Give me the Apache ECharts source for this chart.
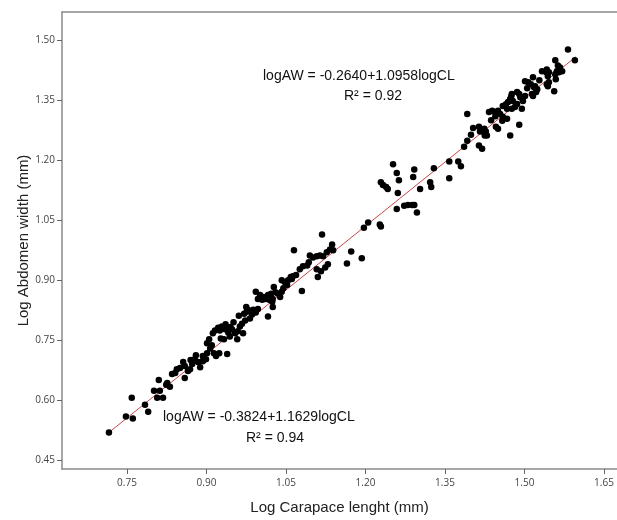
<!DOCTYPE html>
<html>
<head>
<meta charset="utf-8">
<script src="https://cdn.jsdelivr.net/npm/echarts@6/dist/echarts.min.js"></script>
<style>html,body{margin:0;padding:0;background:#fff}#c{width:617px;height:520px}</style>
</head>
<body>
<div id="c"></div>
<script>
// Tick labels
const xTicks = [0.75, 0.90, 1.05, 1.20, 1.35, 1.50, 1.65];
const yTicks = [0.45, 0.60, 0.75, 0.90, 1.05, 1.20, 1.35, 1.50];

// Scatter observations [logCL, logAW]
const points = [
[0.716,0.519],[0.748,0.559],[0.761,0.554],[0.759,0.606],[0.784,0.588],[0.790,0.571],[0.807,0.606],[0.818,0.606],
[0.801,0.623],[0.812,0.623],[0.810,0.650],[0.824,0.638],[0.831,0.633],[0.826,0.643],[0.835,0.665],[0.841,0.668],
[0.844,0.677],[0.850,0.680],[0.856,0.695],[0.859,0.655],[0.865,0.673],[0.869,0.677],[0.873,0.690],[0.878,0.702],
[0.888,0.682],[0.893,0.697],[0.899,0.702],[0.901,0.717],[0.893,0.710],[0.901,0.742],[0.914,0.717],[0.918,0.710],
[0.924,0.717],[0.939,0.715],[0.912,0.767],[0.916,0.774],[0.922,0.781],[0.925,0.774],[0.929,0.784],[0.935,0.777],
[0.941,0.769],[0.927,0.754],[0.933,0.752],[0.958,0.752],[0.954,0.767],[0.959,0.772],[0.963,0.784],[0.969,0.767],
[0.961,0.811],[0.971,0.816],[0.976,0.821],[0.978,0.826],[0.975,0.833],[0.982,0.804],[0.986,0.814],[0.988,0.826],
[0.993,0.871],[0.967,0.791],[0.973,0.799],[0.993,0.819],[0.997,0.828],
[0.884,0.695],[0.859,0.685],[0.907,0.729],[0.910,0.737],[0.944,0.759],[0.948,0.777],
[0.936,0.790],[0.945,0.783],[0.951,0.795],[0.880,0.712],[0.870,0.700],[0.905,0.752],
[0.997,0.853],[1.001,0.863],[1.005,0.851],[1.007,0.858],[1.010,0.853],[1.016,0.863],[1.018,0.851],[1.022,0.866],
[1.024,0.846],[1.025,0.853],[1.025,0.833],[1.016,0.809],[1.027,0.883],[1.035,0.866],[1.039,0.858],[1.042,0.871],
[1.042,0.900],[1.048,0.895],[1.052,0.888],[1.054,0.900],[1.059,0.908],[1.061,0.903],[1.063,0.910],[1.065,0.975],
[1.069,0.913],[1.076,0.927],[1.080,0.873],[1.030,0.870],[1.045,0.880],
[1.095,0.962],[1.101,0.957],[1.108,0.960],[1.114,0.962],[1.120,0.960],[1.127,0.970],[1.133,0.977],[1.137,0.989],
[1.139,0.975],[1.093,0.945],[1.090,0.937],[1.082,0.935],[1.129,0.940],[1.124,0.932],[1.110,0.908],[1.116,0.922],
[1.108,0.927],[1.118,1.014],[1.165,0.942],[1.173,0.972],[1.193,0.955],[1.197,1.031],[1.205,1.044],[1.227,1.039],
[1.229,1.034],[1.229,1.145],[1.233,1.138],[1.239,1.133],[1.242,1.128],[1.252,1.190],[1.259,1.168],[1.263,1.150],
[1.261,1.118],[1.259,1.078],
[1.273,1.086],[1.280,1.088],[1.288,1.088],[1.292,1.088],[1.297,1.069],[1.292,1.177],[1.290,1.158],[1.303,1.128],
[1.322,1.145],[1.324,1.133],[1.329,1.180],[1.358,1.197],[1.358,1.155],[1.375,1.197],[1.380,1.185],[1.386,1.234],
[1.392,1.249],[1.392,1.316],[1.399,1.264],[1.403,1.281],
[1.414,1.284],[1.424,1.279],[1.427,1.272],[1.425,1.262],[1.422,1.272],[1.416,1.272],[1.429,1.262],[1.414,1.237],
[1.420,1.229],[1.433,1.321],[1.439,1.324],[1.444,1.321],[1.450,1.324],[1.454,1.316],[1.459,1.309],[1.467,1.304],
[1.458,1.299],[1.446,1.284],[1.450,1.279],[1.459,1.336],[1.467,1.329],[1.476,1.329],[1.482,1.333],[1.469,1.346],
[1.473,1.353],[1.478,1.348],[1.486,1.341],[1.476,1.366],[1.486,1.371],[1.490,1.366],[1.492,1.358],[1.501,1.361],
[1.497,1.348],[1.514,1.366],[1.516,1.361],[1.495,1.329],[1.490,1.289],[1.473,1.262],[1.501,1.398],[1.507,1.395],
[1.516,1.408],[1.512,1.390],[1.518,1.383],[1.522,1.371],[1.524,1.378],[1.520,1.385],[1.533,1.423],[1.542,1.427],
[1.546,1.420],[1.544,1.410],[1.541,1.420],[1.546,1.395],[1.542,1.390],[1.544,1.385],[1.556,1.373],[1.559,1.403],
[1.558,1.450],[1.563,1.437],[1.567,1.432],[1.561,1.423],[1.565,1.420],[1.571,1.423],[1.558,1.415],[1.582,1.477],
[1.595,1.450],[1.475,1.360],[1.505,1.380],[1.528,1.400],[1.465,1.340],[1.437,1.300],[1.445,1.310]
];

// Fit line end points
const fitLine = [[0.716,0.519],[1.597,1.459]];

const eqUpper = 'logAW = -0.2640+1.0958logCL';
const r2Upper = 'R\u00b2 = 0.92';
const eqLower = 'logAW = -0.3824+1.1629logCL';
const r2Lower = 'R\u00b2 = 0.94';

const chart = echarts.init(document.getElementById('c'), null, {renderer: 'canvas'});
const tickFont = {fontFamily: 'Open Sans', fontSize: 10, color: '#444'};
const frameLine = {show: true, lineStyle: {color: '#8a8a8a', width: 1.5}};
chart.setOption({
  animation: false,
  backgroundColor: '#fff',
  grid: {left: 62, top: 12, right: 0, bottom: 44, show: false},
  xAxis: [{
    type: 'value', min: 0.6274, max: 1.6745,
    name: 'Log Carapace lenght (mm)', nameLocation: 'middle', nameGap: 31, nameMoveOverlap: false,
    nameTextStyle: {fontFamily: 'Liberation Sans', fontSize: 15, color: '#222'},
    splitLine: {show: false},
    axisLine: frameLine,
    axisTick: {show: true, length: 5, lineStyle: {color: '#666'}, customValues: xTicks},
    axisLabel: {...tickFont, margin: 9, customValues: xTicks, formatter: v => v.toFixed(2)}
  }, {
    type: 'value', position: 'top', min: 0.6274, max: 1.6745,
    splitLine: {show: false}, axisLine: frameLine,
    axisTick: {show: false}, axisLabel: {show: false}
  }],
  yAxis: {
    type: 'value', min: 0.4275, max: 1.571,
    name: 'Log Abdomen width (mm)', nameLocation: 'middle', nameGap: 31, nameMoveOverlap: false,
    nameTextStyle: {fontFamily: 'Liberation Sans', fontSize: 15, color: '#222'},
    splitLine: {show: false},
    axisLine: frameLine,
    axisTick: {show: true, length: 5, lineStyle: {color: '#666'}, customValues: yTicks},
    axisLabel: {...tickFont, margin: 7, customValues: yTicks, formatter: v => v.toFixed(2)}
  },
  series: [
    {type: 'line', data: fitLine, symbol: 'none', lineStyle: {color: '#c8474b', width: 1}, z: 1},
    {type: 'scatter', data: points, symbolSize: 6.5, itemStyle: {color: '#000', opacity: 1}, z: 2}
  ],
  graphic: [
    {type: 'text', left: 263, top: 69, style: {text: eqUpper, font: '14px "Liberation Sans"', fill: '#111'}},
    {type: 'text', left: 344, top: 89, style: {text: r2Upper, font: '14px "Liberation Sans"', fill: '#111'}},
    {type: 'text', left: 163, top: 410, style: {text: eqLower, font: '14px "Liberation Sans"', fill: '#111'}},
    {type: 'text', left: 246, top: 431, style: {text: r2Lower, font: '14px "Liberation Sans"', fill: '#111'}}
  ]
});
</script>
</body>
</html>
